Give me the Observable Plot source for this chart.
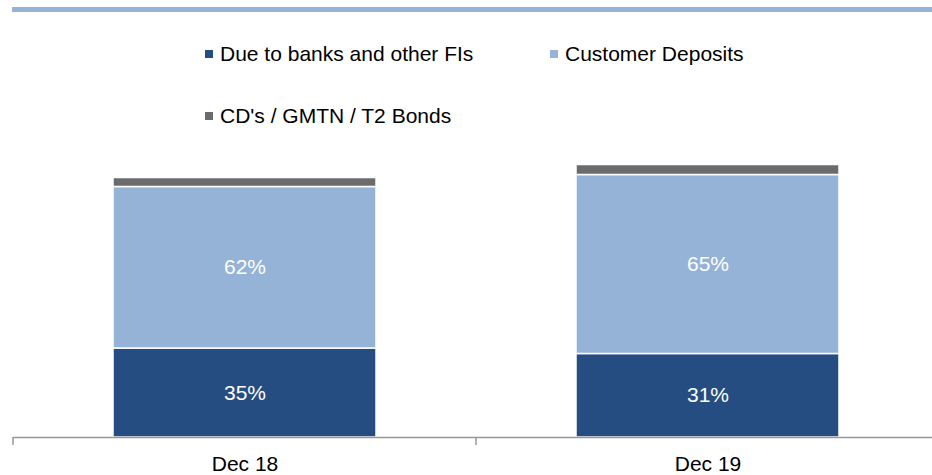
<!DOCTYPE html>
<html>
<head>
<meta charset="utf-8">
<script src="https://cdn.jsdelivr.net/npm/d3@7"></script>
<script src="https://cdn.jsdelivr.net/npm/@observablehq/plot@0.6"></script>
<style>
  html, body { margin: 0; padding: 0; background: #fff; overflow: hidden; }
  body { font-family: "Liberation Sans", Arial, sans-serif; }
  #wrap { position: relative; width: 932px; height: 475px; }
  #topline { position: absolute; left: 12px; right: 0; top: 7px; height: 5px; background: #95B3D7; }
  #header { position: relative; height: 150px; }
  .item { position: absolute; font-size: 21px; color: #000; line-height: 21px; white-space: nowrap; }
  .sw { position: absolute; width: 8px; height: 8px; left: -15px; top: 7px; }
  #chart { position: absolute; left: 0; top: 150px; }
</style>
</head>
<body>
<div id="wrap">
  <div id="header">
    <div id="topline"></div>
    <div id="legend"></div>
  </div>
  <div id="chart"></div>
</div>
<script>
const periods = ["Dec 18", "Dec 19"];
const series = ["Due to banks and other FIs", "Customer Deposits", "CD's / GMTN / T2 Bonds"];
const colors = ["#264D82", "#95B3D7", "#6B6B6B"];
const dueToBanks = [89, 83.5];
const customerDeposits = [161.5, 179];
const cdsGmtnT2 = [9, 10];
const dueLabels = ["35%", "31%"];
const depositLabels = ["62%", "65%"];
const cdsLabels = ["", ""];

const values = [dueToBanks, customerDeposits, cdsGmtnT2];
const labels = [dueLabels, depositLabels, cdsLabels];
const data = [];
series.forEach((s, si) => periods.forEach((p, pi) => {
  data.push({period: p, series: s, value: values[si][pi], label: labels[si][pi]});
}));

// legend
const legendPos = [[220, 43], [565, 43], [220, 105]];
const legend = document.getElementById("legend");
series.forEach((s, i) => {
  const it = document.createElement("div");
  it.className = "item";
  it.style.left = legendPos[i][0] + "px";
  it.style.top = legendPos[i][1] + "px";
  const sw = document.createElement("span");
  sw.className = "sw";
  sw.style.background = colors[i];
  it.appendChild(sw);
  it.appendChild(document.createTextNode(s));
  legend.appendChild(it);
});

const tickMark = (index, scales, values, dims) => {
  const x = scales.x;
  const g = d3.create("svg:g");
  const y0 = dims.height - dims.marginBottom;
  periods.forEach(p => {
    const xb = x(p) - x.step() * x.paddingInner() / 2;
    g.append("line").attr("x1", xb).attr("x2", xb).attr("y1", y0).attr("y2", y0 + 8)
      .attr("stroke", "#999").attr("stroke-width", 1.5);
  });
  return g.node();
};

const chart = Plot.plot({
  width: 932,
  height: 325,
  marginLeft: 13,
  marginRight: -7,
  marginTop: 0,
  marginBottom: 38,
  style: {fontFamily: "Liberation Sans, Arial, sans-serif", fontSize: "21px", background: "transparent", overflow: "visible"},
  x: {domain: periods, paddingInner: 0.432, paddingOuter: 0.216, label: null},
  y: {domain: [0, 287], axis: null},
  color: {domain: series, range: colors},
  marks: [
    Plot.barY(data, {x: "period", y: "value", fill: "series", z: "series", stroke: "#fff", strokeWidth: 1.5}),
    Plot.text(data, Plot.stackY({x: "period", y: "value", z: "series", text: "label", fill: "#fff", fontSize: 21})),
    Plot.ruleY([0], {stroke: "#999", strokeWidth: 1.5}),
    tickMark,
    Plot.axisX({tickSize: 0, tickPadding: 19, fontSize: 21, color: "#000", label: null})
  ]
});
document.getElementById("chart").appendChild(chart);
</script>
</body>
</html>
